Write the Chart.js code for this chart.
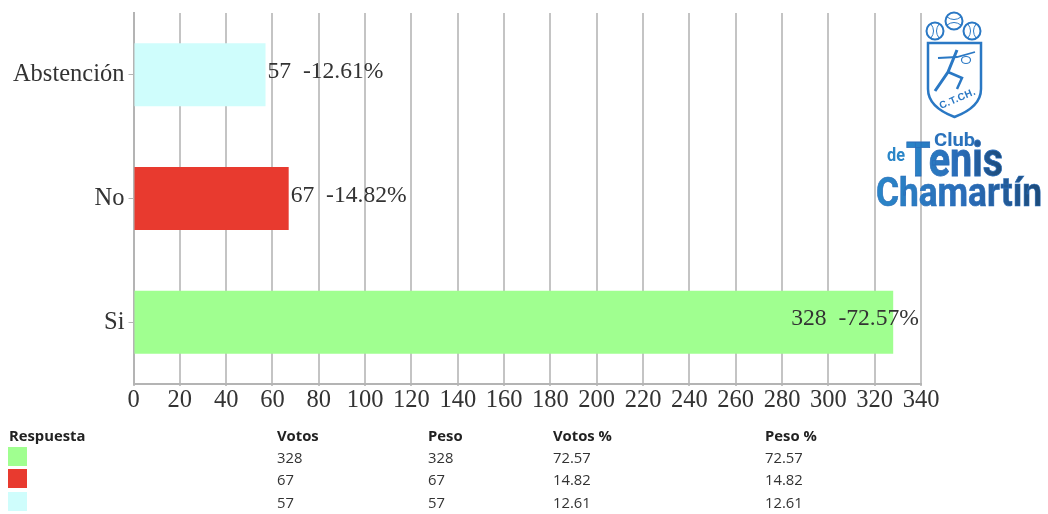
<!DOCTYPE html>
<html>
<head>
<meta charset="utf-8">
<style>
html, body { margin: 0; padding: 0; background: #fff; overflow: hidden; }
#wrap { position: relative; width: 1048px; height: 514px; }
#chart { position: absolute; left: 0; top: 0; }
#logo { position: absolute; left: 0; top: 0; filter: blur(0.4px); }
.cell { position: absolute; font: 14.8px "Open Sans", sans-serif; color: #333; line-height: 18px; white-space: nowrap; }
.head { font-weight: bold; color: #222; }
.swatch { position: absolute; left: 8px; width: 19px; height: 19px; }
</style>
</head>
<body>
<div id="wrap">
  <canvas id="chart" width="1048" height="514"></canvas>
  <svg id="logo" width="1048" height="514" xmlns="http://www.w3.org/2000/svg">
    <defs>
      <linearGradient id="textBlue" x1="0" x2="1" y1="0" y2="0">
        <stop offset="0" stop-color="#2a86c8"/>
        <stop offset="0.55" stop-color="#2a6cb8"/>
        <stop offset="1" stop-color="#1c4a78"/>
      </linearGradient>
    </defs>
    <g fill="none" stroke="#2a78c4">
      <circle cx="935" cy="31" r="8.5" stroke-width="2"/>
      <path d="M931 24 Q936 31 931 38 M939 24 Q934 31 939 38" stroke-width="1"/>
      <circle cx="954" cy="21" r="8.5" stroke-width="2"/>
      <path d="M947 17 Q954 22 961 17 M947 25 Q954 20 961 25" stroke-width="1"/>
      <circle cx="972" cy="31" r="8.5" stroke-width="2"/>
      <path d="M968 24 Q973 31 968 38 M976 24 Q971 31 976 38" stroke-width="1"/>
      <path d="M928 43 H981 V89 Q981 107 954.500 117 Q928 107 928 89 Z" stroke-width="2.500"/>
      <path d="M938 58 L957 57 L975 52" stroke-width="1.800"/>
      <path d="M957 50 L948 72 L935 91" stroke-width="3"/>
      <path d="M948 72 L962 78 L957 89" stroke-width="2.500"/>
      <ellipse cx="966" cy="60" rx="4.500" ry="3.500" stroke-width="1.200"/>
    </g>
    <text transform="translate(941 109) rotate(-23)" font-family="Liberation Sans" font-size="10" font-weight="bold" fill="#2a78c4" textLength="38">C.T.CH.</text>
    <g font-family="Roboto" font-weight="bold" fill="url(#textBlue)">
      <text x="934" y="146" font-size="19" textLength="41" lengthAdjust="spacingAndGlyphs" fill="#2a72bc">Club</text>
      <text x="887" y="161" font-size="19" textLength="18" lengthAdjust="spacingAndGlyphs" fill="#2a86c8">de</text>
      <text x="906" y="176" font-size="49" textLength="97" lengthAdjust="spacingAndGlyphs" stroke="#2a6cb8" stroke-width="0.8">Tenis</text>
      <text x="876" y="206" font-size="40" textLength="166" lengthAdjust="spacingAndGlyphs" stroke="#2a6cb8" stroke-width="0.6">Chamartín</text>
    </g>
  </svg>
  <div id="table"></div>
</div>
<script src="https://cdn.jsdelivr.net/npm/chart.js@4/dist/chart.umd.min.js"></script>
<script>
var categories = ['Abstención', 'No', 'Si'];
var votes = [57, 67, 328];
var weights = [57, 67, 328];
var votesPct = [12.61, 14.82, 72.57];
var weightsPct = [12.61, 14.82, 72.57];
var barColors = ['#cffdfc', '#e83a2f', '#a0ff90'];
var tableHeaders = ['Respuesta', 'Votos', 'Peso', 'Votos %', 'Peso %'];

var serif = '"Liberation Serif", serif';
var textColor = '#333';

// value text next to each bar, pushed back inside when it would leave the plot
var barLabels = {
    id: 'barLabels',
    afterDatasetsDraw: function (chart) {
        var ctx = chart.ctx;
        var bars = chart.getDatasetMeta(0).data;
        ctx.save();
        ctx.font = '23.6px ' + serif;
        ctx.fillStyle = textColor;
        ctx.textBaseline = 'middle';
        bars.forEach(function (bar, i) {
            var text = votes[i] + '  -' + votesPct[i].toFixed(2) + '%';
            var w = ctx.measureText(text).width;
            var x = Math.min(bar.x + 2, chart.chartArea.right - 2 - w);
            ctx.fillText(text, x, bar.y - 3);
        });
        ctx.restore();
    }
};

new Chart(document.getElementById('chart').getContext('2d'), {
    type: 'bar',
    data: {
        labels: categories,
        datasets: [{
            data: votes,
            backgroundColor: barColors,
            barPercentage: 0.51,
            categoryPercentage: 1
        }]
    },
    options: {
        indexAxis: 'y',
        responsive: false,
        animation: false,
        layout: { padding: { top: 13, right: 127, bottom: 0, left: 0 } },
        plugins: {
            legend: { display: false },
            tooltip: { enabled: false }
        },
        scales: {
            x: {
                min: 0,
                max: 340,
                afterFit: function (scale) { scale.height = 130; },
                ticks: {
                    stepSize: 20,
                    autoSkip: false,
                    maxRotation: 0,
                    color: textColor,
                    padding: 0,
                    font: { family: serif, size: 24.5 }
                },
                grid: { color: '#c4c4c4', lineWidth: 2, tickLength: 2 },
                border: { color: '#b4b4b4', width: 2 }
            },
            y: {
                afterFit: function (scale) {
                    scale.width = 133.5;
                    scale.paddingTop = 0;
                    scale.paddingBottom = 0;
                },
                ticks: {
                    color: textColor,
                    padding: 4,
                    font: { family: serif, size: 24.5 }
                },
                grid: { offset: false, drawOnChartArea: false, color: '#b4b4b4', lineWidth: 1, tickLength: 5 },
                border: { color: '#b4b4b4', width: 2 }
            }
        }
    },
    plugins: [barLabels]
});

// table under the chart, largest answer first
var table = document.getElementById('table');
var colLeft = [9, 277, 428, 553, 765];
var rowTop = [426, 448, 470, 493];

function addCell(text, col, row, cls) {
    var el = document.createElement('div');
    el.className = cls;
    el.textContent = text;
    el.style.left = colLeft[col] + 'px';
    el.style.top = rowTop[row] + 'px';
    table.appendChild(el);
}

tableHeaders.forEach(function (h, c) { addCell(h, c, 0, 'cell head'); });
for (var i = categories.length - 1, row = 1; i >= 0; i--, row++) {
    var sw = document.createElement('div');
    sw.className = 'swatch';
    sw.style.top = (rowTop[row] - 1) + 'px';
    sw.style.background = barColors[i];
    table.appendChild(sw);
    addCell(String(votes[i]), 1, row, 'cell');
    addCell(String(weights[i]), 2, row, 'cell');
    addCell(votesPct[i].toFixed(2), 3, row, 'cell');
    addCell(weightsPct[i].toFixed(2), 4, row, 'cell');
}
</script>
</body>
</html>
